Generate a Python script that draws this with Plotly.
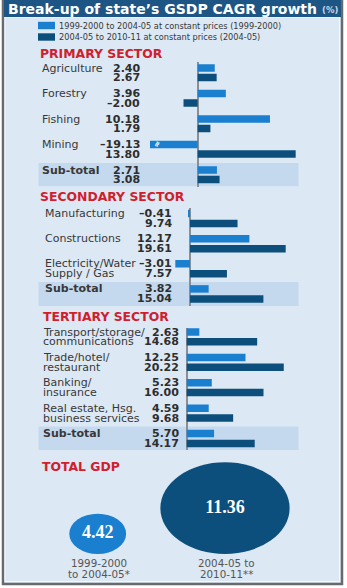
import plotly.graph_objects as go

W, H = 347, 588

# ---------------- data ----------------
series_names = ["1999-2000 to 2004-05 at constant prices (1999-2000)",
                "2004-05 to 2010-11 at constant prices (2004-05)"]

primary_cats = ["Agriculture", "Forestry", "Fishing", "Mining", "Sub-total"]
primary_p1 = [2.40, 3.96, 10.18, -19.13, 2.71]
primary_p2 = [2.67, -2.00, 1.79, 13.80, 3.08]

secondary_cats = ["Manufacturing", "Constructions", "Electricity/Water|Supply / Gas", "Sub-total"]
secondary_p1 = [-0.41, 12.17, -3.01, 3.82]
secondary_p2 = [9.74, 19.61, 7.57, 15.04]

tertiary_cats = ["Transport/storage/|communications", "Trade/hotel/|restaurant",
                 "Banking/|insurance", "Real estate, Hsg.|business services", "Sub-total"]
tertiary_p1 = [2.63, 12.25, 5.23, 4.59, 5.70]
tertiary_p2 = [14.68, 20.22, 16.00, 9.68, 14.17]

gdp_periods = ["1999-2000|to 2004-05*", "2004-05 to|2010-11**"]
gdp_values = [4.42, 11.36]

# ---------------- style ----------------
C_LIGHT = "#1b7fd0"
C_DARK = "#0d4f7c"
C_PANEL = "#dce8f4"
C_BAND = "#c4d9ed"
C_TITLE = "#1d5585"
C_RED = "#d01e2d"
C_TEXT = "#383838"
SANS = "DejaVu Sans"


def X(px):
    return px / W


def Y(px):
    return 1 - px / H


def fmt(v):
    s = f"{abs(v):.2f}"
    return ("–" + s) if v < 0 else s


fig = go.Figure()
shapes = []
annotations = []

# frame, panel, title bar
shapes.append(dict(type="rect", xref="paper", yref="paper", x0=X(3), x1=X(342), y0=Y(584), y1=Y(0),
                   fillcolor=C_PANEL, line=dict(color="#6a6a6a", width=2.5), layer="below"))
shapes.append(dict(type="rect", xref="paper", yref="paper", x0=X(5), x1=X(339.5), y0=Y(581.5), y1=Y(17),
                   fillcolor="rgba(0,0,0,0)", line=dict(color="#f4f8fc", width=1), layer="below"))
shapes.append(dict(type="rect", xref="paper", yref="paper", x0=X(4), x1=X(341), y0=Y(17), y1=Y(0),
                   fillcolor=C_TITLE, line=dict(width=0), layer="below"))
annotations.append(dict(text="<b>Break-up of state’s GSDP CAGR growth</b>", xref="paper", yref="paper",
                        x=X(6), y=Y(9), xanchor="left", yanchor="middle", showarrow=False,
                        font=dict(family=SANS, size=14, color="white")))
annotations.append(dict(text="<b>(%)</b>", xref="paper", yref="paper", x=X(339.5), y=Y(10),
                        xanchor="right", yanchor="middle", showarrow=False,
                        font=dict(family=SANS, size=8.5, color="#c9d9ea")))

# legend
for i, (name, col, yc) in enumerate(zip(series_names, [C_LIGHT, C_DARK], [25.5, 37])):
    shapes.append(dict(type="rect", xref="paper", yref="paper", x0=X(38), x1=X(55),
                       y0=Y(yc + 3.7), y1=Y(yc - 3.7), fillcolor=col, line=dict(width=0)))
    annotations.append(dict(text=name, xref="paper", yref="paper", x=X(56.5), y=Y(yc),
                            xanchor="left", yanchor="middle", showarrow=False,
                            font=dict(family=SANS, size=8.2, color=C_TEXT)))

# section headings
for txt, xp, yp in [("PRIMARY SECTOR", 38, 53), ("SECONDARY SECTOR", 38, 196.5),
                    ("TERTIARY SECTOR", 40.5, 316.5), ("TOTAL GDP", 40, 466.5)]:
    annotations.append(dict(text=f"<b>{txt}</b>", xref="paper", yref="paper", x=X(xp), y=Y(yp),
                            xanchor="left", yanchor="middle", showarrow=False,
                            font=dict(family=SANS, size=12.4, color=C_RED)))

# ---------------- bar sections ----------------
sections = [
    dict(cats=primary_cats, p1=primary_p1, p2=primary_p2, ax="", top=62, bottom=186.5,
         first=6, pitch=25.5, gap=9.6, zero=197.7, ppu=7.1, left=150, right=300,
         lab_x=40, val_x=142),
    dict(cats=secondary_cats, p1=secondary_p1, p2=secondary_p2, ax="2", top=208, bottom=306,
         first=5.5, pitch=25.13, gap=10, zero=190, ppu=4.88, left=160, right=300,
         lab_x=43, val_x=173.5),
    dict(cats=tertiary_cats, p1=tertiary_p1, p2=tertiary_p2, ax="3", top=327.7, bottom=450,
         first=4.3, pitch=25.4, gap=9.8, zero=186.7, ppu=4.8, left=160, right=300,
         lab_x=41, val_x=180.5),
]

BAR_H = 7.5
for s in sections:
    n = len(s["cats"])
    y1 = [s["first"] + g * s["pitch"] for g in range(n)]
    y2 = [y + s["gap"] for y in y1]
    xa = "x" + s["ax"]
    ya = "y" + s["ax"]
    fig.add_trace(go.Bar(x=s["p1"], y=y1, orientation="h", width=BAR_H, marker=dict(color=C_LIGHT, line=dict(width=0)),
                         xaxis=xa, yaxis=ya, showlegend=False, hoverinfo="skip"))
    fig.add_trace(go.Bar(x=s["p2"], y=y2, orientation="h", width=BAR_H, marker=dict(color=C_DARK, line=dict(width=0)),
                         xaxis=xa, yaxis=ya, showlegend=False, hoverinfo="skip"))
    # sub-total band
    shapes.append(dict(type="rect", xref="paper", yref=ya, x0=X(38.5), x1=X(298.5),
                       y0=y1[-1] - 7, y1=y2[-1] + 7, fillcolor=C_BAND, line=dict(width=0), layer="below"))
    for g, cat in enumerate(s["cats"]):
        lines = cat.split("|")
        bold = cat == "Sub-total"
        for li, line in enumerate(lines):
            annotations.append(dict(text=f"<b>{line}</b>" if bold else line, xref="paper", yref=ya,
                                    x=X(s["lab_x"]), y=(y1 if li == 0 else y2)[g],
                                    xanchor="left", yanchor="middle", showarrow=False,
                                    font=dict(family=SANS, size=11, color=C_TEXT)))
        for yy, v in [(y1[g], s["p1"][g]), (y2[g], s["p2"][g])]:
            annotations.append(dict(text=f"<b>{fmt(v)}</b>", xref="paper", yref=ya,
                                    x=X(s["val_x"]), y=yy, xanchor="right", yanchor="middle",
                                    showarrow=False, font=dict(family=SANS, size=11, color="#2e2e2e")))
    dom_y = [Y(s["bottom"]), Y(s["top"])]
    fig.layout["xaxis" + s["ax"]] = dict(domain=[X(s["left"]), X(s["right"])], anchor=ya,
                                         range=[(s["left"] - s["zero"]) / s["ppu"], (s["right"] - s["zero"]) / s["ppu"]],
                                         showgrid=False, showticklabels=False, ticks="", zeroline=True,
                                         zerolinecolor="#8a8f96", zerolinewidth=1.5, fixedrange=True)
    fig.layout["yaxis" + s["ax"]] = dict(domain=dom_y, anchor=xa, range=[s["bottom"] - s["top"], 0],
                                         showgrid=False, showticklabels=False, ticks="", zeroline=False,
                                         fixedrange=True)

# break mark on the truncated mining bar
annotations.append(dict(text="<b>≈</b>", xref="paper", yref="y", x=X(157), y=6 + 3 * 25.5,
                        xanchor="center", yanchor="middle", showarrow=False, textangle=-65,
                        font=dict(family=SANS, size=8, color="white")))

# ---------------- total GDP bubbles ----------------
BX_L, BX_R, BY_T, BY_B = 40, 310, 450, 575
CX0, CSTEP = 97.7, 127.3
base = BY_B - 554
fig.layout["xaxis4"] = dict(domain=[X(BX_L), X(BX_R)], anchor="y4",
                            range=[(BX_L - CX0) / CSTEP, (BX_R - CX0) / CSTEP],
                            visible=False, fixedrange=True)
fig.layout["yaxis4"] = dict(domain=[Y(BY_B), Y(BY_T)], anchor="x4", range=[0, BY_B - BY_T],
                            visible=False, fixedrange=True)
cy = []
for i, v in enumerate(gdp_values):
    w = 15.6 * v ** 0.87
    h = 0.71 * w
    rx = w / 2 / CSTEP
    shapes.append(dict(type="circle", xref="x4", yref="y4", x0=i - rx, x1=i + rx, y0=base, y1=base + h,
                       fillcolor=[C_LIGHT, C_DARK][i], line=dict(width=0), layer="below"))
    cy.append(base + h / 2)
    for li, line in enumerate(gdp_periods[i].split("|")):
        annotations.append(dict(text=line, xref="x4", yref="paper", x=i + 0.01, y=Y(563 + 10.6 * li),
                                xanchor="center", yanchor="middle", showarrow=False,
                                font=dict(family=SANS, size=10.3, color="#555555")))
fig.add_trace(go.Scatter(x=list(range(len(gdp_values))), y=cy, mode="text",
                         text=[f"<b>{v:.2f}</b>" for v in gdp_values],
                         textfont=dict(family="Liberation Serif", size=18, color="white"),
                         xaxis="x4", yaxis="y4", showlegend=False, hoverinfo="skip"))

fig.update_layout(width=W, height=H, margin=dict(l=0, r=0, t=0, b=0), autosize=False,
                  paper_bgcolor="white", plot_bgcolor="rgba(0,0,0,0)", barmode="overlay",
                  showlegend=False, shapes=shapes, annotations=annotations)

fig.write_html("out.html")
